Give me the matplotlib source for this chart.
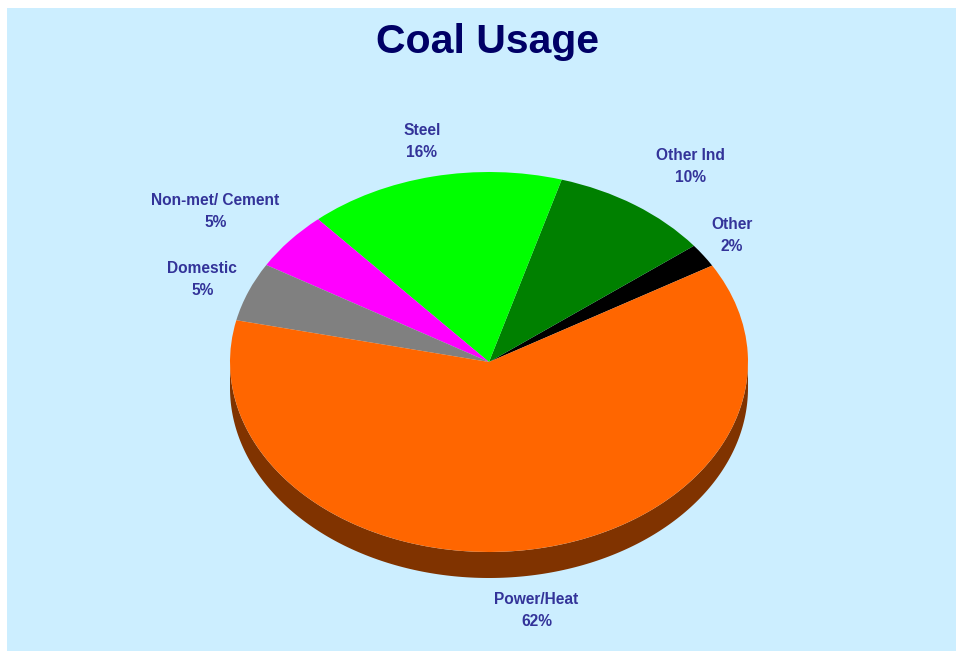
import matplotlib
matplotlib.use("Agg")
import matplotlib.pyplot as plt
from matplotlib.patches import Rectangle
import numpy as np

# Shares of coal consumption by end use (percent)
categories = ["Other", "Other Ind", "Steel", "Non-met/ Cement", "Domestic", "Power/Heat"]
shares = [2, 10, 16, 5, 5, 62]
top_colors = ["#000000", "#008000", "#00FF00", "#FF00FF", "#808080", "#FF6600"]
side_colors = ["#000000", "#004000", "#008000", "#800080", "#404040", "#803300"]

W, H = 956, 651
fig = plt.figure(figsize=(W / 100, H / 100), dpi=100, facecolor="white")
fig.add_artist(Rectangle((7 / W, 0), 1, 1 - 8 / H, transform=fig.transFigure,
                         facecolor="#CCEEFF", edgecolor="none", zorder=0))

ax = fig.add_axes([0, 0, 1, 1])
ax.patch.set_alpha(0)

# pie geometry in pixels (centre measured from top-left), tilted into an ellipse
cx, cy = 489, 362
rx, ry = 259, 190
depth = 26 / ry
start = 30.5

# top face
wedges, _ = ax.pie(shares, colors=top_colors, startangle=start, counterclock=True,
                   radius=1, center=(0, 0), wedgeprops=dict(linewidth=0), frame=True)
for w in wedges:
    w.set_zorder(3)

# side band of the disc (visible on the lower half only)
for w, col in zip(wedges, side_colors):
    t1, t2 = w.theta1, w.theta2
    for shift in (0, 360, -360):
        a = max(t1, 180 + shift)
        b = min(t2, 360 + shift)
        if b > a:
            th = np.radians(np.linspace(a, b, 200))
            xs = np.cos(th)
            ys = np.sin(th)
            px = np.concatenate([xs, xs[::-1]])
            py = np.concatenate([ys, ys[::-1] - depth])
            ax.fill(px, py, color=col, linewidth=0, zorder=2)

ax.set_aspect("auto")
ax.set_xlim(-cx / rx, (W - cx) / rx)
ax.set_ylim(-(H - cy) / ry, cy / ry)
ax.axis("off")

# slice labels
label_dist = {"Other": 1.15, "Other Ind": 1.29, "Steel": 1.19,
              "Non-met/ Cement": 1.32, "Domestic": 1.19, "Power/Heat": 1.32}
label_turn = {"Other": 1.2, "Other Ind": -2.7, "Steel": 0.1,
              "Non-met/ Cement": 2.9, "Domestic": 0.2, "Power/Heat": -0.9}
for w, name, val in zip(wedges, categories, shares):
    mid = np.radians((w.theta1 + w.theta2) / 2 + label_turn[name])
    r = label_dist[name]
    ax.text(r * np.cos(mid), r * np.sin(mid), f"{name}\n{val}%",
            ha="center", va="center", fontsize=11.2, fontweight="bold",
            family="Liberation Sans", color="#333399", linespacing=1.6, zorder=5)

fig.text(488 / W, 1 - 53 / H, "Coal Usage", ha="center", va="baseline",
         fontsize=29.5, fontweight="bold", family="Liberation Sans", color="#000066")

fig.savefig("out.png", dpi=100, facecolor=fig.get_facecolor())
